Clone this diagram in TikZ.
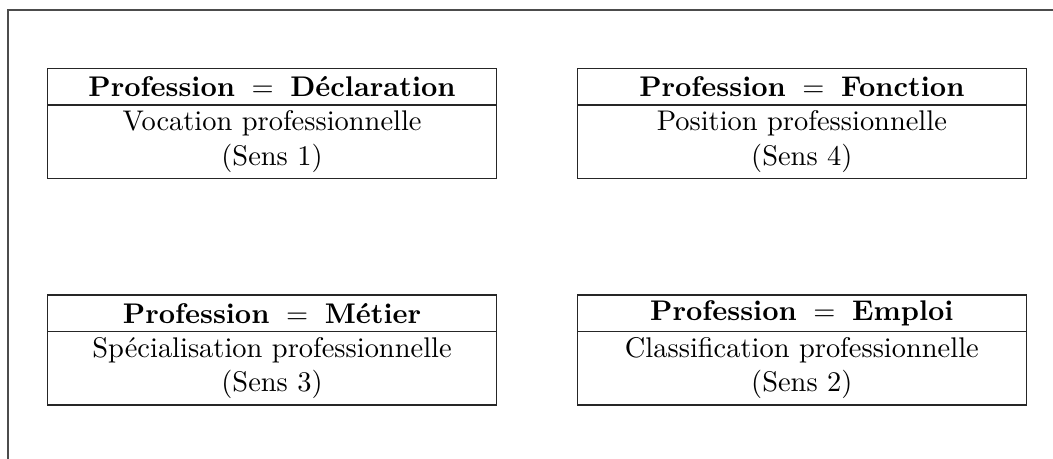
\documentclass[tikz,border=0pt]{standalone}
\usepackage{fontspec}
\newcommand{\eqsep}{\hspace{2.2pt}$=$\hspace{2.2pt}}
\begin{document}
\begin{tikzpicture}[x=0.385pt,y=-0.385pt,
  head/.style={draw=black!85,line width=0.45pt,anchor=north west,minimum width=172.9pt,minimum height=14.13pt,inner sep=0pt,outer sep=0pt,font=\fontsize{10.95}{13.2}\selectfont\bfseries},
  body/.style={draw=black!85,line width=0.45pt,anchor=north,minimum width=172.9pt,minimum height=28.22pt,inner sep=0pt,outer sep=0pt,align=center,font=\fontsize{10.95}{13.2}\selectfont},
  frame/.style={draw=black!70,line width=0.45pt}]
\useasboundingbox (0,0) rectangle (1053,459);
\coordinate (ftr) at (1053,10);
\coordinate (fc) at (8,10);
\coordinate (fbl) at (8,459);
\draw[frame] (ftr) -- (fc) -- (fbl);
\node[head] (h1) at (47.5,68.3) {Profession \eqsep{} Déclaration};
\node[body] (b1) at (h1.south) {Vocation professionnelle\\(Sens 1)};
\node[head] (h4) at (577.3,68.3) {Profession \eqsep{} Fonction};
\node[body] (b4) at (h4.south) {Position professionnelle\\(Sens 4)};
\node[head] (h3) at (47.5,295) {Profession \eqsep{} Métier};
\node[body] (b3) at (h3.south) {Spécialisation professionnelle\\(Sens 3)};
\node[head] (h2) at (577.3,295) {Profession \eqsep{} Emploi};
\node[body] (b2) at (h2.south) {Classification professionnelle\\(Sens 2)};
\end{tikzpicture}
\end{document}
